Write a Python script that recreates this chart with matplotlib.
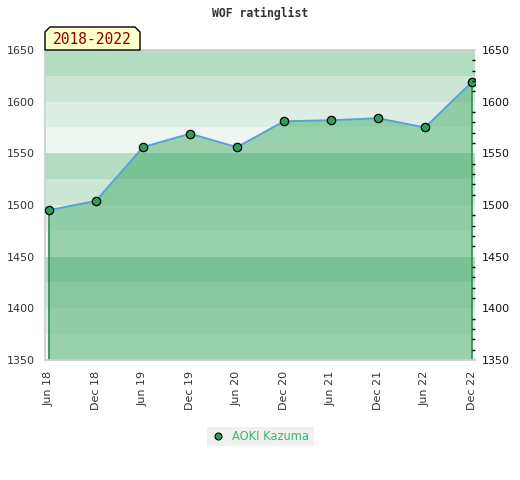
import matplotlib
matplotlib.use("Agg")
import matplotlib.pyplot as plt
from matplotlib.patches import Polygon, Rectangle
from matplotlib.lines import Line2D
import numpy as np

# ---- data ----
periods = ["Jun 18", "Dec 18", "Jun 19", "Dec 19", "Jun 20",
           "Dec 20", "Jun 21", "Dec 21", "Jun 22", "Dec 22"]
ratings = [1495, 1504, 1556, 1569, 1556, 1581, 1582, 1584, 1575, 1619]
player = "AOKI Kazuma"
title = "WOF ratinglist"
period_label = "2018-2022"
y_ticks = [1350, 1400, 1450, 1500, 1550, 1600, 1650]

W, H = 520, 480
fig = plt.figure(figsize=(W / 100, H / 100), dpi=100)
fig.patch.set_facecolor("white")

def fx(px):
    return px / W

def fy(py):
    return 1 - py / H

L, R, T, B = 45, 475, 50, 360
ax = fig.add_axes([fx(L), fy(B), fx(R) - fx(L), fy(T) - fy(B)])
ymin, ymax = 1350, 1650
x = np.arange(len(periods))
ax.set_xlim(-0.085, len(periods) - 1 + 0.065)
ax.set_ylim(ymin, ymax)

# background bands (repeat every 100, 4 bands of 25; lightest at the bottom of each group)
band_cols = ["#eef6f1", "#ddeee4", "#cce6d6", "#b3dcc2"]
for lo in range(ymin, ymax, 25):
    k = ((lo - ymin) // 25) % 4
    ax.axhspan(lo, lo + 25, facecolor=band_cols[k], lw=0, zorder=0)

# filled area under the rating line
ax.fill_between(x, ratings, ymin, facecolor="#32a45c", alpha=0.45, lw=0, zorder=1)
ax.plot([x[0], x[0]], [ymin, ratings[0]], color="#2e8b57", lw=1.2, zorder=2)
ax.plot([x[-1], x[-1]], [ymin, ratings[-1]], color="#2e8b57", lw=1.2, zorder=2)
ax.plot(x, ratings, color="#5aa2d6", lw=1.4, zorder=3)
ax.plot(x, ratings, ls="none", marker="o", ms=6, mfc="#2e9e5a", mec="black",
        mew=0.9, zorder=4)

# spines
for s in ["left", "top", "bottom"]:
    ax.spines[s].set_color("#cccccc")
    ax.spines[s].set_linewidth(1.2)
ax.spines["right"].set_visible(False)

ax.set_xticks(x)
ax.set_xticklabels(periods, rotation=90, fontsize=8, color="#333333")
ax.tick_params(axis="x", length=0, pad=8)
ax.set_yticks(y_ticks)
ax.set_yticklabels([str(v) for v in y_ticks], fontsize=8, color="#333333")
ax.tick_params(axis="y", length=0, pad=7)

ax2 = ax.twinx()
ax2.set_ylim(ymin, ymax)
ax2.set_yticks(y_ticks)
ax2.set_yticklabels([str(v) for v in y_ticks], fontsize=8, color="#111111")
ax2.set_yticks(np.arange(ymin, ymax + 1, 10), minor=True)
ax2.tick_params(axis="y", which="major", length=0, pad=5)
ax2.tick_params(axis="y", which="minor", length=2.5, direction="in", color="black",
                width=1)
for s in ax2.spines.values():
    s.set_visible(False)

# title
fig.text(fx(260), fy(13), title, ha="center", va="center", fontsize=8.3,
         family="DejaVu Sans Mono", fontweight="bold", color="#333333")

# period label box with clipped top corners
bx0, bx1, by0, by1, c = 45, 140, 50, 27, 5
pts = [(bx0, by0), (bx0, by1 + c), (bx0 + c, by1), (bx1 - c, by1),
       (bx1, by1 + c), (bx1, by0)]
poly = Polygon([(fx(a), fy(b)) for a, b in pts], closed=True,
               transform=fig.transFigure, facecolor="#ffffcc",
               edgecolor="black", lw=1, zorder=10)
fig.patches.append(poly)
fig.text(fx(92), fy(40), period_label, ha="center", va="center",
         fontsize=10.5, family="DejaVu Sans Mono", color="#8b0000", zorder=11)

# legend
fig.patches.append(Rectangle((fx(207), fy(446)), fx(314) - fx(207), fy(427) - fy(446),
                             transform=fig.transFigure, facecolor="#f0f0f0",
                             edgecolor="none"))
fig.lines.append(Line2D([fx(218)], [fy(436)], transform=fig.transFigure,
                        marker="o", ms=5, mfc="#2e9e5a", mec="black", mew=0.8,
                        ls="none"))
fig.text(fx(232), fy(436), player, ha="left", va="center", fontsize=8.3,
         color="#3cb371")

fig.savefig("out.png", dpi=100)
